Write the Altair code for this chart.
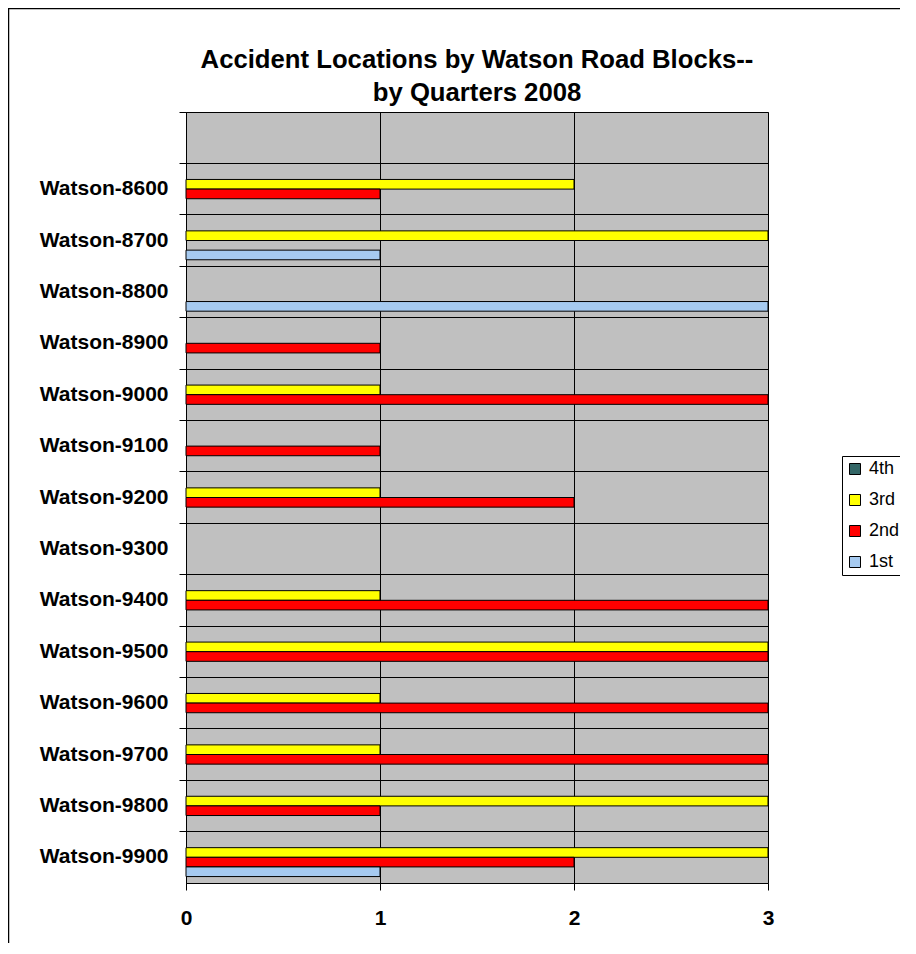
import altair as alt
import pandas as pd

blocks = ["Watson-8600", "Watson-8700", "Watson-8800", "Watson-8900", "Watson-9000",
          "Watson-9100", "Watson-9200", "Watson-9300", "Watson-9400", "Watson-9500",
          "Watson-9600", "Watson-9700", "Watson-9800", "Watson-9900"]
quarters = ["4th", "3rd", "2nd", "1st"]
q4 = [0, 0, 0, 0, 0, 0, 0, 0, 0, 0, 0, 0, 0, 0]
q3 = [2, 3, 0, 0, 1, 0, 1, 0, 1, 3, 1, 1, 3, 3]
q2 = [1, 0, 0, 1, 3, 1, 2, 0, 3, 3, 3, 3, 1, 2]
q1 = [0, 1, 3, 0, 0, 0, 0, 0, 0, 0, 0, 0, 0, 1]
colors = ["#336666", "#FFFF00", "#FF0000", "#A6CAF0"]
x_ticks = [0, 1, 2, 3]
title_lines = ["Accident Locations by Watson Road Blocks--", "by Quarters 2008"]

rows = []
for q, vals in zip(quarters, [q4, q3, q2, q1]):
    for b, v in zip(blocks, vals):
        rows.append({"block": b, "quarter": q, "value": v})
df = pd.DataFrame(rows)

FONT = "Arial, Liberation Sans, sans-serif"
y_domain = [" "] + blocks

bars = alt.Chart(df).transform_filter("datum.value > 0").mark_bar(
    stroke="black", strokeWidth=1
).encode(
    x=alt.X("value:Q", scale=alt.Scale(domain=[0, 3], nice=False),
            axis=alt.Axis(values=x_ticks, title=None, format="d", grid=True,
                          gridColor="black", gridWidth=1, domainColor="black",
                          tickColor="black", tickSize=7, labelPadding=17,
                          labelFlush=False,
                          labelFontSize=21, labelFontWeight="bold", labelFont=FONT,
                          labelColor="black")),
    y=alt.Y("block:N", scale=alt.Scale(domain=y_domain, paddingInner=0, paddingOuter=0),
            axis=alt.Axis(title=None, bandPosition=0, grid=True, gridColor="black",
                          gridWidth=1, domainColor="black", tickColor="black",
                          tickSize=7, labelPadding=11, labelFontSize=21,
                          labelFontWeight="bold", labelFont=FONT, labelColor="black")),
    yOffset=alt.YOffset("quarter:N", scale=alt.Scale(domain=quarters, paddingInner=0,
                                                      paddingOuter=0.667)),
    fill=alt.Fill("quarter:N", scale=alt.Scale(domain=quarters, range=colors),
                  legend=alt.Legend(title=None, orient="none", legendX=656, legendY=344,
                                    strokeColor="black", fillColor="white", padding=4,
                                    labelFontSize=18, labelFont=FONT, labelColor="black",
                                    symbolType="square", symbolSize=121,
                                    symbolStrokeColor="black", symbolStrokeWidth=1,
                                    rowPadding=13, labelOffset=5)),
)

title_df = pd.DataFrame({"line": title_lines, "ypos": [-44, -11]})
title = alt.Chart(title_df).mark_text(
    font=FONT, fontSize=25.7, fontWeight="bold", color="black",
    align="center", baseline="alphabetic"
).encode(
    text="line:N",
    x=alt.value(291),
    y=alt.Y("ypos:Q", scale=None),
)

border = alt.Chart(alt.Data(values=[{}])).mark_rect(
    fill=None, stroke="black", strokeWidth=1.5
).encode(
    x=alt.value(-177.5), x2=alt.value(2000), y=alt.value(-103.5), y2=alt.value(2000)
)

chart = alt.layer(bars, title, border).properties(
    width=582, height=771,
    padding={"left": 178, "top": 104, "right": 132, "bottom": 60},
    autosize=alt.AutoSizeParams(type="none"),
).configure(background="white").configure_view(
    fill="#C0C0C0", stroke="#808080", strokeWidth=1
)

chart.save("out.html", embed_options={"renderer": "svg", "actions": False})
